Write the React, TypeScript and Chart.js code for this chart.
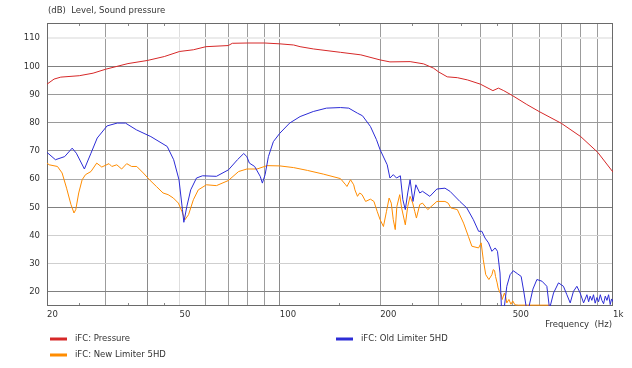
import React, { useEffect, useRef } from "react";
import { Chart, registerables } from "chart.js";

Chart.register(...registerables);

// ---- Data (frequency in Hz, level in dB) ----
const pressureFreq = [20, 21, 22, 25, 27.5, 30, 35, 40, 45, 50, 55, 60, 70, 72, 80, 90, 100, 110, 115, 126, 132, 152, 175, 200, 214, 246, 270, 289, 300, 318, 341, 366, 400, 436, 453, 470, 500, 551, 600, 700, 800, 900, 1000];
const pressureDb = [93.7, 95.5, 96.2, 96.7, 97.6, 99.0, 101.0, 102.1, 103.5, 105.3, 105.9, 107.0, 107.4, 108.2, 108.3, 108.3, 108.0, 107.6, 107.0, 106.2, 105.9, 105.0, 104.1, 102.3, 101.6, 101.7, 100.9, 99.4, 98.0, 96.3, 96.0, 95.2, 93.7, 91.4, 92.3, 91.4, 89.6, 86.5, 84.0, 79.8, 75.1, 69.5, 62.5];

const oldLimiterFreq = [20, 21.2, 22.6, 23.8, 24.5, 25.9, 27.1, 28.3, 30.3, 32.5, 34.4, 37.1, 41.0, 45.9, 48.0, 49.8, 51.0, 51.5, 52.6, 54.0, 56.2, 58.6, 64.5, 70.1, 74.6, 77.9, 79.6, 81.0, 84.0, 87.3, 88.6, 90.3, 92.4, 95.6, 100, 107, 115, 126, 138, 152, 161, 171, 177, 187, 195, 200, 210, 214, 219, 224, 230, 234, 238, 242, 246, 251, 256, 263, 268, 282, 296, 313, 324, 347, 364, 381, 395, 404, 413, 423, 433, 443, 450, 458, 463, 470, 480, 491, 502, 516, 530, 540, 550, 560, 575, 591, 612, 633, 645, 663, 686, 710, 727, 744, 761, 779, 797, 816, 835, 845, 854, 864, 874, 884, 895, 905, 916, 926, 937, 948, 959, 970, 981, 990, 1000];
const oldLimiterDb = [69.5, 66.9, 68.0, 71.0, 69.2, 63.6, 69.2, 74.6, 78.9, 79.9, 79.9, 77.5, 75.1, 71.6, 66.9, 59.8, 49.2, 44.7, 50.4, 56.2, 60.4, 61.2, 61.0, 63.3, 66.9, 69.1, 68.0, 65.7, 64.5, 61.0, 58.6, 61.6, 68.0, 73.3, 76.3, 79.9, 82.2, 84.0, 85.2, 85.4, 85.2, 83.4, 82.5, 78.7, 74.0, 70.4, 65.1, 60.4, 61.6, 60.4, 61.2, 52.7, 49.2, 55.1, 59.8, 52.1, 58.0, 55.1, 55.7, 53.9, 56.5, 56.8, 55.7, 52.1, 49.8, 45.6, 41.5, 41.5, 39.1, 37.4, 34.4, 35.6, 34.4, 26.7, 13, 13, 22.0, 26.1, 27.5, 26.5, 25.5, 20.0, 14, 15, 21.0, 24.4, 23.8, 22.0, 14, 19.6, 23.2, 22.0, 19.0, 16.1, 20.2, 22.0, 19.6, 16.1, 19.0, 16.5, 18.5, 17.0, 19.0, 16.0, 18.0, 16.5, 19.0, 17.0, 15.8, 18.5, 17.0, 19.0, 15.5, 17.5, 16.5];

const newLimiterFreq = [20, 20.3, 21.5, 22.2, 22.9, 23.6, 24.1, 24.4, 24.9, 25.5, 26.1, 27.1, 28.2, 29.2, 30.7, 31.3, 32.4, 33.5, 34.7, 35.9, 37.2, 38.9, 40.6, 42.6, 44.6, 46.2, 47.9, 49.6, 50.8, 51.9, 53.2, 55, 56.9, 60.2, 64.5, 70, 75.2, 79.6, 85.4, 91.5, 100, 110, 121, 135, 152, 157.6, 159, 163, 166.6, 168, 171, 173.6, 176.5, 180.9, 187, 191.6, 195.9, 200, 204.6, 209, 212.8, 216, 219, 222, 224.5, 229, 232, 238, 242, 246, 250.5, 254, 257, 263, 268, 278, 296, 313, 320, 326, 341, 356, 368, 377, 395, 402, 408, 415, 424, 433, 437, 441, 444, 449, 452, 457, 462, 465, 472, 476, 480, 487, 494, 500, 508, 520, 650];
const newLimiterDb = [65.7, 65.1, 64.5, 62.2, 56.8, 51.0, 48.0, 49.2, 55.1, 59.8, 61.6, 62.7, 65.7, 64.3, 65.5, 64.5, 65.1, 63.6, 65.5, 64.5, 64.5, 62.2, 59.8, 57.4, 55.1, 54.5, 53.3, 51.5, 48.6, 45.6, 47.4, 52.7, 56.2, 58.0, 57.7, 59.5, 62.7, 63.6, 63.6, 64.8, 64.7, 64.1, 63.1, 61.8, 60.2, 58.0, 57.4, 59.8, 58.0, 56.2, 53.9, 55.1, 54.5, 52.1, 52.9, 52.1, 48.6, 45.6, 43.2, 48.6, 53.3, 51.5, 45.6, 42.1, 50.3, 54.5, 49.8, 43.8, 50.3, 53.9, 51.5, 48.6, 46.2, 51.0, 51.5, 49.2, 52.1, 52.1, 51.5, 49.8, 49.2, 44.4, 39.7, 36.2, 35.6, 37.4, 31.4, 26.1, 24.4, 26.1, 27.9, 27.6, 25.5, 23.2, 21.4, 19.9, 19.0, 17.3, 19.6, 18.4, 16.1, 17.3, 15.6, 16.8, 15.4, 15.3, 15.3];

const seriesNames = ["iFC: Pressure", "iFC: Old Limiter 5HD", "iFC: New Limiter 5HD"];
const seriesColors = ["rgb(214,40,40)", "rgb(44,44,214)", "rgb(255,140,0)"];

const yTicks = [20, 30, 40, 50, 60, 70, 80, 90, 100, 110];
const xTickFreqs = [20, 25, 30, 35, 40, 45, 50, 60, 70, 80, 90, 100, 150, 200, 250, 300, 350, 400, 450, 500, 600, 700, 800, 900, 1000];
const xMinorFreqs = [25, 35, 45, 150, 250, 350, 450];
const xLabelFreqs = [20, 50, 100, 200, 500, 1000];
const xLabelTexts = ["20", "50", "100", "200", "500", "1k"];

const chartTitle = "(dB)  Level, Sound pressure";
const xAxisTitle = "Frequency  (Hz)";

const FONT_FAMILY = '"DejaVu Sans", Verdana, sans-serif';
const FONT_SIZE = 8.5;
const TEXT_COLOR = "#333";

function yGridColor(v: number): string {
  if (v === 110) return "#ebebeb";
  if (v === 100 || v === 50 || v === 20) return "#808080";
  if (v === 40 || v === 30) return "#cfcfcf";
  if (v === 60) return "#aaaaaa";
  return "#9a9a9a";
}

function xGridColor(v: number): string {
  if (xMinorFreqs.includes(v) || v === 20 || v === 1000) return "rgba(0,0,0,0)";
  if (v === 50) return "#dedede";
  if (v === 100 || v === 40) return "#8a8a8a";
  return "#9c9c9c";
}

const overlayPlugin = {
  id: "overlay",
  beforeDatasetsDraw(chart: any) {
    const { ctx, chartArea, scales } = chart;
    const xs = scales.x;
    ctx.save();
    ctx.strokeStyle = "#888";
    ctx.lineWidth = 1;
    xMinorFreqs.forEach((f) => {
      const px = Math.round(xs.getPixelForValue(f)) + 0.5;
      ctx.beginPath();
      ctx.moveTo(px, chartArea.top);
      ctx.lineTo(px, chartArea.top + 3);
      ctx.moveTo(px, chartArea.bottom);
      ctx.lineTo(px, chartArea.bottom - 3);
      ctx.stroke();
    });
    ctx.strokeStyle = "#6a6a6a";
    ctx.strokeRect(
      Math.round(chartArea.left) + 0.5,
      Math.round(chartArea.top) + 0.5,
      Math.round(chartArea.right - chartArea.left) - 1,
      Math.round(chartArea.bottom - chartArea.top) - 1
    );
    ctx.restore();
  },
  afterDraw(chart: any) {
    const { ctx, chartArea } = chart;
    ctx.save();
    ctx.font = `${FONT_SIZE}px ${FONT_FAMILY}`;
    ctx.fillStyle = TEXT_COLOR;
    ctx.textBaseline = "middle";
    ctx.textAlign = "left";
    ctx.fillText(chartTitle, chartArea.left + 1, 11);
    ctx.textAlign = "right";
    ctx.fillText(xAxisTitle, chartArea.right - 1, 325);
    // legend
    const legendPos = [
      [50, 339],
      [336, 339],
      [50, 355],
    ];
    ctx.textAlign = "left";
    seriesNames.forEach((name, i) => {
      const [lx, ly] = legendPos[i];
      ctx.fillStyle = seriesColors[i];
      ctx.fillRect(lx, ly - 1.5, 17, 3);
      ctx.fillStyle = TEXT_COLOR;
      ctx.fillText(name, lx + 25, ly);
    });
    ctx.restore();
  },
};

export default function App() {
  const canvasRef = useRef<HTMLCanvasElement | null>(null);

  useEffect(() => {
    const canvas = canvasRef.current;
    if (!canvas) return;
    const toPts = (f: number[], v: number[]) => f.map((x, i) => ({ x, y: v[i] }));
    const series = [
      toPts(pressureFreq, pressureDb),
      toPts(oldLimiterFreq, oldLimiterDb),
      toPts(newLimiterFreq, newLimiterDb),
    ];
    const chart = new Chart(canvas, {
      type: "line",
      data: {
        datasets: series.map((data, i) => ({
          label: seriesNames[i],
          data,
          borderColor: seriesColors[i],
          backgroundColor: seriesColors[i],
          borderWidth: 1,
          pointRadius: 0,
          tension: 0,
          fill: false,
        })),
      },
      options: {
        animation: false,
        responsive: false,
        devicePixelRatio: 1,
        parsing: true,
        layout: { padding: { top: 23, right: 19, left: 0, bottom: 0 } },
        plugins: {
          legend: { display: false },
          tooltip: { enabled: false },
          title: { display: false },
        },
        scales: {
          x: {
            type: "logarithmic",
            min: 20,
            max: 1000,
            afterBuildTicks: (s: any) => {
              s.ticks = xTickFreqs.map((v) => ({ value: v }));
            },
            afterFit: (s: any) => {
              s.height = 62;
            },
            border: { display: false },
            grid: {
              drawTicks: false,
              color: (c: any) => xGridColor(c.tick ? c.tick.value : 0),
              lineWidth: 1,
            },
            ticks: {
              autoSkip: false,
              maxRotation: 0,
              minRotation: 0,
              align: "start",
              padding: 4,
              color: TEXT_COLOR,
              font: { family: FONT_FAMILY, size: FONT_SIZE },
              callback: (value: any) => {
                const idx = xLabelFreqs.indexOf(Number(value));
                return idx >= 0 ? xLabelTexts[idx] : "";
              },
            },
          },
          y: {
            type: "linear",
            min: 15,
            max: 115.4,
            afterBuildTicks: (s: any) => {
              s.ticks = yTicks.map((v) => ({ value: v }));
            },
            afterFit: (s: any) => {
              s.width = 47;
            },
            border: { display: false },
            grid: {
              drawTicks: false,
              color: (c: any) => yGridColor(c.tick ? c.tick.value : 0),
              lineWidth: (c: any) => (c.tick && c.tick.value === 110 ? 2 : 1),
            },
            ticks: {
              padding: 7,
              color: TEXT_COLOR,
              font: { family: FONT_FAMILY, size: FONT_SIZE },
              callback: (value: any) => String(value),
            },
          },
        },
      },
      plugins: [overlayPlugin],
    } as any);
    return () => chart.destroy();
  }, []);

  return (
    <div style={{ position: "fixed", left: 0, top: 0, width: 632, height: 368, background: "#fff" }}>
      <canvas ref={canvasRef} width={632} height={368} style={{ display: "block" }} />
    </div>
  );
}
